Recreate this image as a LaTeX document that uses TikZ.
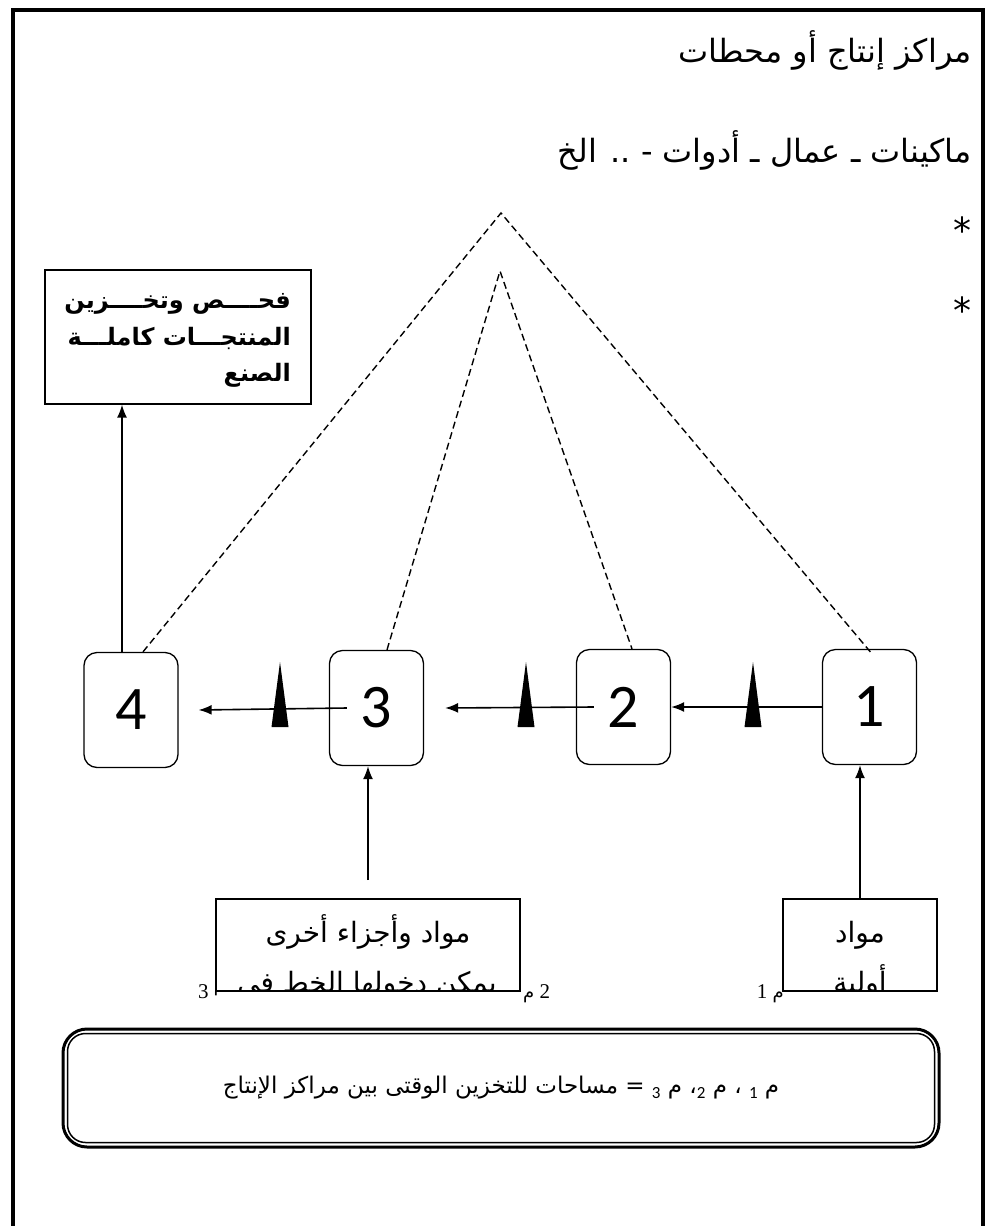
\documentclass[tikz,border=0pt]{standalone}
\usepackage{fontspec}
\setmainfont{Liberation Serif}
\newfontfamily\arabicfont[Script=Arabic]{DejaVu Sans}
\newfontfamily\digitfont{Carlito}
\newfontfamily\asansfont{DejaVu Sans}
\TeXXeTstate=1
\usetikzlibrary{arrows.meta,calc}
\newcommand\subdig[1]{\raisebox{-5pt}{\digitfont\fontsize{17}{17}\selectfont #1}}
\begin{document}
\begin{tikzpicture}[x=1pt,y=-1pt,
  station/.style={draw,line width=1.3pt,rounded corners=13pt,minimum width=94pt,minimum height=115pt,inner sep=0pt,font=\digitfont\fontsize{62}{62}\selectfont},
  arr/.style={line width=1.6pt,-{Latex[length=13pt,width=10pt]}},
  dsh/.style={line width=1.4pt,dash pattern=on 7pt off 4pt},
  plainbox/.style={draw,line width=1.3pt,fill=white,inner sep=0pt},
  ttl/.style={anchor=base east,inner sep=0pt,font=\arabicfont\fontsize{32}{36}\selectfont},
  fint/.style={anchor=base east,inner sep=0pt,font=\arabicfont\bfseries\fontsize{24}{24}\selectfont},
  boxt/.style={anchor=base,inner sep=0pt,font=\arabicfont\fontsize{28}{28}\selectfont},
  star/.style={anchor=base east,inner sep=0pt,font=\asansfont\fontsize{36}{36}\selectfont},
  lbl/.style={inner sep=0pt,font=\fontsize{21}{21}\selectfont},
  triup/.style={fill=black}
]
\useasboundingbox (0,0) rectangle (988,1226);
% frame
\draw[line width=4pt] (13,1240) -- (13,10) -- (983,10) -- (983,1240);
% titles
\node[ttl] (t1) at (972,62) {\beginR مراكز إنتاج أو محطات\endR};
\node[ttl] (t2) at (972,162) {\beginR ماكينات ـ عمال ـ أدوات - .. الخ\endR};
\node[star] (s1) at (972,243) {*};
\node[star] (s2) at (972,323) {*};
% final box
\node[draw,line width=1.3pt,minimum width=266pt,minimum height=134pt] (fin) at (178,337) {};
\node[fint] (f1) at (291,308) {\beginR فحــــص وتخــــزين\endR};
\node[fint] (f2) at (291,345) {\beginR المنتجـــات كاملـــة\endR};
\node[fint] (f3) at (291,381) {\beginR الصنع\endR};
% stations
\node[station] (b4) at (131,710) {4};
\node[station] (b3) at (376.5,708) {3};
\node[station] (b2) at (623.5,707) {2};
\node[station] (b1) at (869.5,707) {1};
% dashed lines
\coordinate (apO) at (501,213);
\coordinate (apI) at (500,271);
\draw[dsh] ($(b4.north)+(12,0)$) -- (apO) -- ($(b1.north)+(2.5,5)$);
\draw[dsh] ($(b3.north)+(10.5,0)$) -- (apI) -- ($(b2.north)+(8.5,0)$);
% flow arrows
\draw[arr] (b1.west) -- (b2.east);
\draw[arr] ($(b2.west)+(18,0)$) -- ($(b3.east)+(21,0)$);
\draw[arr] ($(b3.west)+(18,0)$) -- ($(b4.east)+(20,0)$);
\fill[triup] (271.5,727) -- (288.5,727) -- (280,662) -- cycle;
\fill[triup] (517.5,727) -- (534.5,727) -- (526,662) -- cycle;
\fill[triup] (744.5,727) -- (761.5,727) -- (753,662) -- cycle;
% to final box
\coordinate (c4) at (122,0);
\draw[arr] (b4.north -| c4) -- (c4 |- fin.south);
% storage labels
\node[lbl,anchor=base west] (m3) at (198,998) {\beginR\raisebox{7pt}{\arabicfont\fontsize{18}{18}\selectfont م} 3\endR};
\node[lbl,anchor=base west] (m2) at (523,998) {{\arabicfont\fontsize{18}{18}\selectfont م} 2};
\node[lbl,anchor=base east] (m1) at (784,998) {\beginR{\arabicfont\fontsize{18}{18}\selectfont م} 1\endR};
% input boxes
\node[plainbox,minimum width=304pt,minimum height=92pt,
  path picture={
    \node[boxt] at ($(path picture bounding box.north)+(0,43)$) {\beginR مواد وأجزاء أخرى\endR};
    \node[boxt] at ($(path picture bounding box.north)+(-1,93)$) {\beginR يمكن دخولها الخط في\endR};
  }] (mb3) at (368,945) {};
\node[plainbox,minimum width=154pt,minimum height=92pt,
  path picture={
    \node[boxt] at ($(path picture bounding box.north)+(0,43)$) {\beginR مواد\endR};
    \node[boxt] at ($(path picture bounding box.north)+(0,93)$) {\beginR أولية\endR};
  }] (mb1) at (860,945) {};
\coordinate (s3) at (368,880);
\draw[arr] (s3) -- (s3 |- b3.south);
\draw[arr] (mb1.north) -- (mb1.north |- b1.south);
% note box
\node[draw,line width=3pt,rounded corners=24pt,minimum width=876pt,minimum height=118pt,
  font=\arabicfont\fontsize{23}{23}\selectfont] (note) at (501,1088)
  {\beginR م \subdig{1} ، م \subdig{2}، م \subdig{3} = مساحات للتخزين الوقتى بين مراكز الإنتاج\endR};
\draw[line width=1.5pt,rounded corners=18pt] ($(note.north west)+(6,6)$) rectangle ($(note.south east)+(-6,-6)$);
\end{tikzpicture}
\end{document}
